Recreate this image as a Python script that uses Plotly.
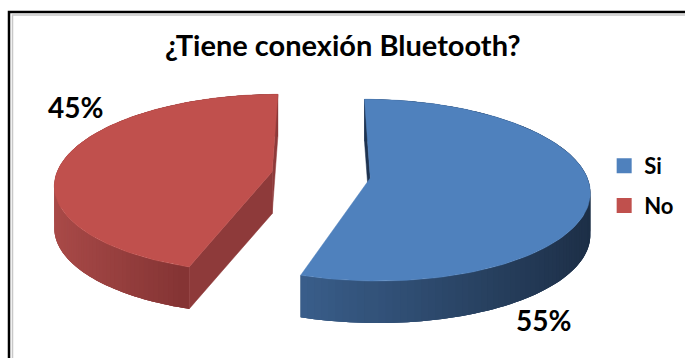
import numpy as np
import plotly.graph_objects as go

# ---------------- data ----------------
labels = ["Si", "No"]
values = [55, 45]
title_text = "¿Tiene conexión Bluetooth?"
top_colors = ["#4f81bd", "#c0504d"]
wall_left_colors = ["#3a5f8c", "#a94a48"]
wall_right_colors = ["#1d2f47", "#843434"]
cut_colors = ["#1e3350", "#8e3a3a"]
label_pos = [(543, 320), (75, 107)]   # percentage label anchors (pixels)

# ---------------- 3D pie projection ----------------
W, Hpx = 685, 358
CX, CY = 321.0, 174.8         # pie centre (top face)
A, B, P = 216.0, 88.4, 0.133  # horizontal radius, vertical radius, perspective
DEPTH = 42.0                  # thickness in pixels
EXPLODE = 0.23                # explosion (fraction of radius)
START = 0.0                   # first slice starts at 12 o'clock, clockwise


def proj(u, v, down=0.0):
    s = 1 + P * v
    return CX + A * u / s, CY - B * v / s + down


def hex2rgb(h):
    h = h.lstrip("#")
    return np.array([int(h[i:i + 2], 16) for i in (0, 2, 4)], dtype=float)


def mix(c1, c2, t):
    c = hex2rgb(c1) * (1 - t) + hex2rgb(c2) * t
    return "rgb(%d,%d,%d)" % tuple(np.round(c).astype(int))


fig = go.Figure()
total = float(sum(values))
angles = np.cumsum([0] + values) / total * 360.0 + START

bases, walls, cuts, tops = [], [], [], []
for i, (lab, val) in enumerate(zip(labels, values)):
    a0, a1 = angles[i], angles[i + 1]
    mid = np.radians((a0 + a1) / 2)
    ou, ov = EXPLODE * np.sin(mid), EXPLODE * np.cos(mid)
    th = np.radians(np.linspace(a0, a1, 121))
    us, vs = ou + np.sin(th), ov + np.cos(th)
    tx, ty = proj(us, vs)
    bx, by = proj(us, vs, DEPTH)
    ax_, ay_ = proj(ou, ov)
    axb, ayb = proj(ou, ov, DEPTH)

    # gradient range on the visible (front) part of the outer wall
    front = np.cos(th) <= 0.02
    xl, xr = tx[front].min(), tx[front].max()
    midcol = mix(wall_left_colors[i], wall_right_colors[i], 0.5)
    bases.append(go.Scatter(
        x=np.concatenate([tx, bx[::-1], [tx[0]]]),
        y=np.concatenate([ty, by[::-1], [ty[0]]]),
        fill="toself", fillcolor=midcol, mode="none",
        hoverinfo="skip", showlegend=False))
    segs = []
    n = len(th)
    for k in range(n - 1):
        k2 = min(k + 2, n - 1)
        xm = (tx[k] + tx[k + 1]) / 2
        t = float(np.clip((xm - xl) / max(xr - xl, 1), 0, 1))
        col = mix(wall_left_colors[i], wall_right_colors[i], t)
        depth_key = np.cos((th[k] + th[k + 1]) / 2)
        segs.append((depth_key, go.Scatter(
            x=[tx[k], tx[k + 1], tx[k2], bx[k2], bx[k + 1], bx[k], tx[k]],
            y=[ty[k], ty[k + 1], ty[k2], by[k2], by[k + 1], by[k], ty[k]],
            fill="toself", fillcolor=col, mode="none",
            hoverinfo="skip", showlegend=False)))
    segs.sort(key=lambda s: -s[0])          # back first
    walls.extend(s[1] for s in segs)

    # radial cut faces: draw only those that face the viewer
    cx_in, cy_in = proj(ou + 0.5 * np.sin(mid), ov + 0.5 * np.cos(mid))
    for j in (0, -1):
        dx, dy = tx[j] - ax_, ty[j] - ay_
        c_in = dx * (cy_in - ay_) - dy * (cx_in - ax_)
        c_dn = dx * 1.0
        if c_in * c_dn < 0:
            cuts.append(go.Scatter(
                x=[ax_, tx[j], bx[j], axb, ax_],
                y=[ay_, ty[j], by[j], ayb, ay_],
                fill="toself", fillcolor=cut_colors[i], mode="lines",
                line=dict(width=0.5, color=cut_colors[i]), hoverinfo="skip",
                showlegend=False))

    # top face
    tops.append(go.Scatter(
        x=np.concatenate([[ax_], tx, [ax_]]),
        y=np.concatenate([[ay_], ty, [ay_]]),
        fill="toself", fillcolor=top_colors[i], mode="lines",
        line=dict(width=0.5, color=top_colors[i]),
        name=lab, hoverinfo="text",
        text="%s: %d%%" % (lab, round(val / total * 100)),
        showlegend=False))

for tr in bases + walls + cuts + tops:
    fig.add_trace(tr)

# legend entries
for i, lab in enumerate(labels):
    fig.add_trace(go.Scatter(
        x=[None], y=[None], mode="markers", name=lab, legendgroup=lab,
        marker=dict(symbol="square", size=15, color=top_colors[i]),
        showlegend=True))

annotations = [dict(
    x=343, y=44, xref="x", yref="y", text="<b>%s</b>" % title_text,
    showarrow=False, font=dict(family="Lato", size=29, color="#000000"),
    xanchor="center", yanchor="middle")]
for i, val in enumerate(values):
    lx, ly = label_pos[i]
    annotations.append(dict(
        x=lx, y=ly, xref="x", yref="y",
        text="<b>%d%%</b>" % round(val / total * 100), showarrow=False,
        font=dict(family="Lato", size=28, color="#000000"),
        xanchor="center", yanchor="middle"))

shapes = [
    dict(type="rect", xref="x", yref="y", x0=9, y0=12, x1=W + 20, y1=Hpx + 20,
         line=dict(color="#000000", width=2.5), layer="below"),
    dict(type="rect", xref="x", yref="y", x0=12.5, y0=15, x1=W + 20, y1=Hpx + 20,
         line=dict(color="#c8c8c8", width=1.5), layer="below"),
]

fig.update_layout(
    width=W, height=Hpx, margin=dict(l=0, r=0, t=0, b=0),
    paper_bgcolor="white", plot_bgcolor="white",
    xaxis=dict(range=[0, W], visible=False, fixedrange=True),
    yaxis=dict(range=[Hpx, 0], visible=False, fixedrange=True),
    annotations=annotations, shapes=shapes,
    legend=dict(x=0.882, y=0.595, xanchor="left", yanchor="top",
                font=dict(family="Lato", size=22, color="#000000", weight="bold"),
                tracegroupgap=8, itemwidth=30, bgcolor="rgba(0,0,0,0)"),
    showlegend=True,
)

fig.write_html("out.html", config={"displayModeBar": False})
